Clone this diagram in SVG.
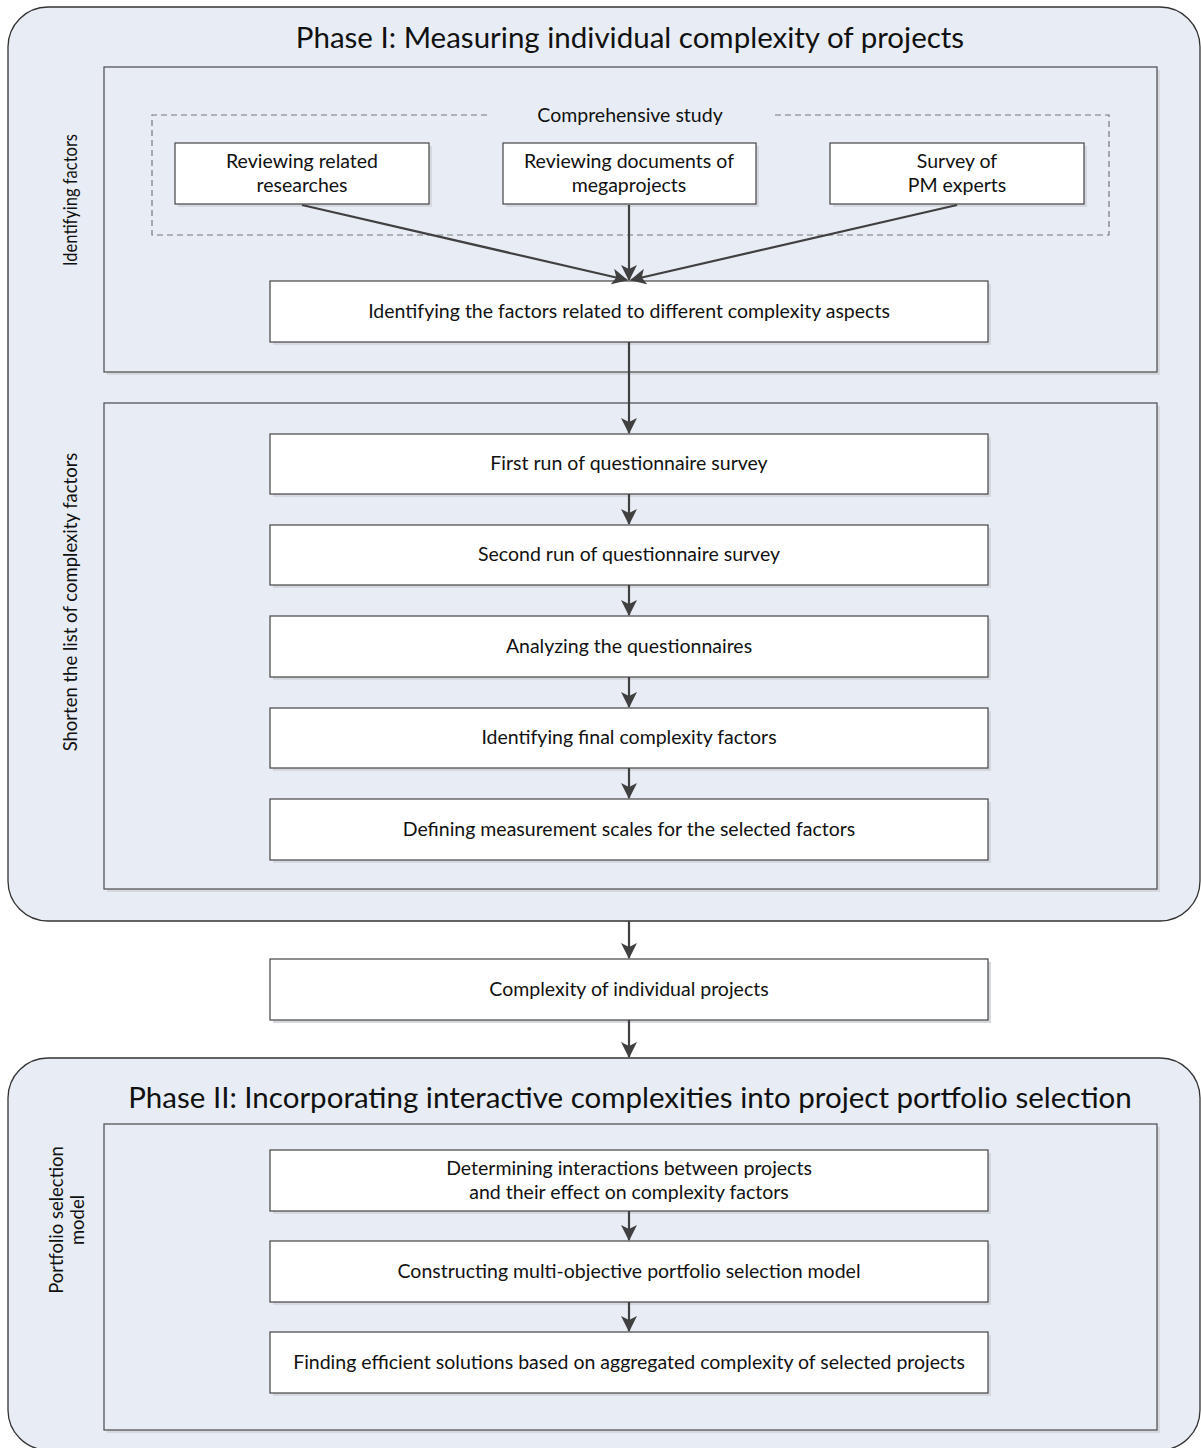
<svg xmlns="http://www.w3.org/2000/svg" width="1201" height="1448" viewBox="0 0 1201 1448">
<defs>
<style>
.phase{fill:#E8EDF5;stroke:#333;stroke-width:1.3}
.sec{fill:#E8EDF5;stroke:#555;stroke-width:1.3}
.shd{fill:#D5D9DF}
.box{fill:#fff;stroke:#444;stroke-width:1.2}
.dash{fill:none;stroke:#777;stroke-width:1.2;stroke-dasharray:6,4}
.t{font-family:Lato,"Liberation Sans",Arial,sans-serif;font-size:19.5px;fill:#111;text-anchor:middle}
.r{font-family:Lato,"Liberation Sans",Arial,sans-serif;font-size:18.5px;fill:#111;text-anchor:middle}
.h{font-family:Lato,"Liberation Sans",Arial,sans-serif;font-size:29.5px;fill:#111;text-anchor:middle}
.c{fill:none;stroke:#404040;stroke-width:2.2}
</style>
<marker id="ah" viewBox="0 0 16 16" refX="15" refY="8" markerWidth="16" markerHeight="16" markerUnits="userSpaceOnUse" orient="auto">
<path d="M0,0 L16,8 L0,16 L4,8 z" fill="#404040"/>
</marker>
</defs>

<g id="phase1">
<rect class="phase" x="8" y="7" width="1192" height="914" rx="40" ry="40"/>
<text class="h" x="630" y="48">Phase I: Measuring individual complexity of projects</text>
</g>

<g id="sec-identifying">
<rect class="shd" x="107" y="70" width="1053" height="305"/>
<rect class="sec" x="104" y="67" width="1053" height="305"/>
<text class="r" transform="translate(77,200) rotate(-90)" textLength="132" lengthAdjust="spacingAndGlyphs">Identifying factors</text>
</g>

<g id="comprehensive">
<path class="dash" d="M487,115 H152 V235 H1109 V115 H775"/>
<text class="t" x="630" y="122">Comprehensive study</text>
</g>

<g id="n-research">
<rect class="shd" x="178" y="146" width="254" height="61"/>
<rect class="box" x="175" y="143" width="254" height="61"/>
<text class="t" x="302" y="168">Reviewing related</text>
<text class="t" x="302" y="192">researches</text>
</g>
<g id="n-documents">
<rect class="shd" x="506" y="146" width="253" height="61"/>
<rect class="box" x="503" y="143" width="253" height="61"/>
<text class="t" x="629" y="168">Reviewing documents of</text>
<text class="t" x="629" y="192">megaprojects</text>
</g>
<g id="n-survey">
<rect class="shd" x="833" y="146" width="254" height="61"/>
<rect class="box" x="830" y="143" width="254" height="61"/>
<text class="t" x="957" y="168">Survey of</text>
<text class="t" x="957" y="192">PM experts</text>
</g>

<g id="n-identify">
<rect class="shd" x="273" y="284" width="718" height="61"/>
<rect class="box" x="270" y="281" width="718" height="61"/>
<text class="t" x="629" y="318">Identifying the factors related to different complexity aspects</text>
</g>

<g id="sec-shorten">
<rect class="shd" x="107" y="406" width="1053" height="486"/>
<rect class="sec" x="104" y="403" width="1053" height="486"/>
<text class="r" transform="translate(77,602) rotate(-90)">Shorten the list of complexity factors</text>
</g>

<g id="n-first">
<rect class="shd" x="273" y="437" width="718" height="60"/>
<rect class="box" x="270" y="434" width="718" height="60"/>
<text class="t" x="629" y="470">First run of questionnaire survey</text>
</g>
<g id="n-second">
<rect class="shd" x="273" y="528" width="718" height="60"/>
<rect class="box" x="270" y="525" width="718" height="60"/>
<text class="t" x="629" y="561">Second run of questionnaire survey</text>
</g>
<g id="n-analyze">
<rect class="shd" x="273" y="619" width="718" height="61"/>
<rect class="box" x="270" y="616" width="718" height="61"/>
<text class="t" x="629" y="653">Analyzing the questionnaires</text>
</g>
<g id="n-final">
<rect class="shd" x="273" y="711" width="718" height="60"/>
<rect class="box" x="270" y="708" width="718" height="60"/>
<text class="t" x="629" y="744">Identifying final complexity factors</text>
</g>
<g id="n-scales">
<rect class="shd" x="273" y="802" width="718" height="61"/>
<rect class="box" x="270" y="799" width="718" height="61"/>
<text class="t" x="629" y="836">Defining measurement scales for the selected factors</text>
</g>

<g id="n-complexity">
<rect class="shd" x="273" y="962" width="718" height="61"/>
<rect class="box" x="270" y="959" width="718" height="61"/>
<text class="t" x="629" y="996">Complexity of individual projects</text>
</g>

<g id="phase2">
<rect class="phase" x="8" y="1058" width="1192" height="392" rx="40" ry="40"/>
<text class="h" x="630" y="1108">Phase II: Incorporating interactive complexities into project portfolio selection</text>
</g>

<g id="sec-portfolio">
<rect class="shd" x="107" y="1127" width="1053" height="306"/>
<rect class="sec" x="104" y="1124" width="1053" height="306"/>
<text class="r" transform="translate(63,1220) rotate(-90)">Portfolio selection</text>
<text class="r" transform="translate(84,1220) rotate(-90)">model</text>
</g>

<g id="n-interactions">
<rect class="shd" x="273" y="1153" width="718" height="61"/>
<rect class="box" x="270" y="1150" width="718" height="61"/>
<text class="t" x="629" y="1175">Determining interactions between projects</text>
<text class="t" x="629" y="1199">and their effect on complexity factors</text>
</g>
<g id="n-construct">
<rect class="shd" x="273" y="1244" width="718" height="61"/>
<rect class="box" x="270" y="1241" width="718" height="61"/>
<text class="t" x="629" y="1278">Constructing multi-objective portfolio selection model</text>
</g>
<g id="n-finding">
<rect class="shd" x="273" y="1335" width="718" height="61"/>
<rect class="box" x="270" y="1332" width="718" height="61"/>
<text class="t" x="629" y="1369">Finding efficient solutions based on aggregated complexity of selected projects</text>
</g>

<g id="connectors">
<line class="c" x1="302" y1="205" x2="627" y2="280" marker-end="url(#ah)"/>
<line class="c" x1="629" y1="205" x2="629" y2="280" marker-end="url(#ah)"/>
<line class="c" x1="957" y1="205" x2="631" y2="280" marker-end="url(#ah)"/>
<line class="c" x1="629" y1="342" x2="629" y2="433" marker-end="url(#ah)"/>
<line class="c" x1="629" y1="494" x2="629" y2="524" marker-end="url(#ah)"/>
<line class="c" x1="629" y1="585" x2="629" y2="615" marker-end="url(#ah)"/>
<line class="c" x1="629" y1="677" x2="629" y2="707" marker-end="url(#ah)"/>
<line class="c" x1="629" y1="768" x2="629" y2="798" marker-end="url(#ah)"/>
<line class="c" x1="629" y1="921" x2="629" y2="958" marker-end="url(#ah)"/>
<line class="c" x1="629" y1="1020" x2="629" y2="1057" marker-end="url(#ah)"/>
<line class="c" x1="629" y1="1211" x2="629" y2="1240" marker-end="url(#ah)"/>
<line class="c" x1="629" y1="1302" x2="629" y2="1331" marker-end="url(#ah)"/>
</g>
</svg>
